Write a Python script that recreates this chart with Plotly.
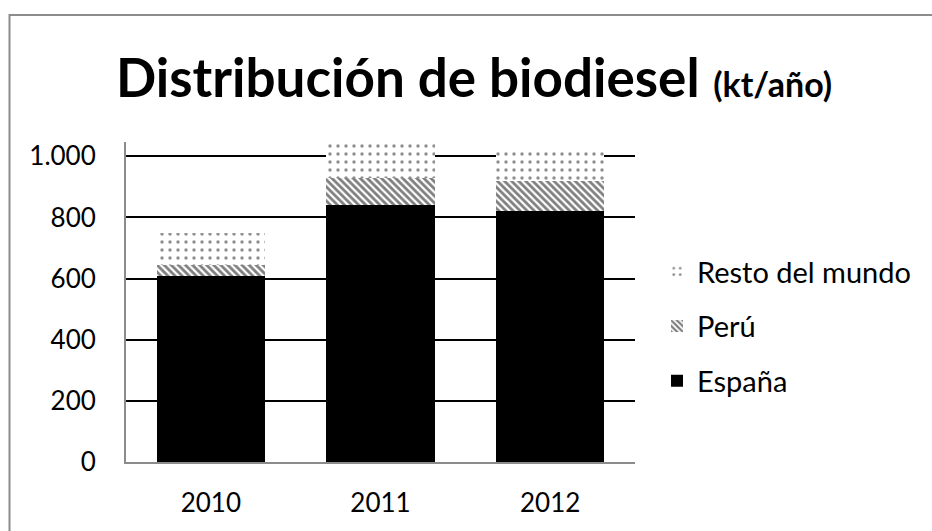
import plotly.graph_objects as go

years = ["2010", "2011", "2012"]
espana = [610, 840, 820]
peru = [35, 90, 100]
resto = [105, 110, 105]
y_ticks = [0, 200, 400, 600, 800, 1000]
y_tick_labels = ["0", "200", "400", "600", "800", "1.000"]

FONT = "Lato"
L, R, T, B = 126, 297, 142, 69
W, H = 932, 531
pw = W - L - R
ph = H - T - B

fig = go.Figure()
fig.add_trace(go.Bar(
    x=years, y=espana, name="España", legendgroup="a", legendrank=3,
    marker=dict(color="black", line=dict(width=0)),
))
fig.add_trace(go.Bar(
    x=years, y=peru, name="Perú", legendgroup="b", legendrank=2,
    marker=dict(color="white", line=dict(width=0),
                pattern=dict(shape="\\", fgcolor="black", bgcolor="white",
                             size=5, solidity=0.55, fillmode="overlay")),
))
fig.add_trace(go.Bar(
    x=years, y=resto, name="Resto del mundo", legendgroup="c", legendrank=1,
    marker=dict(color="white", line=dict(width=0),
                pattern=dict(shape=".", fgcolor="#222222", bgcolor="white",
                             size=8, solidity=0.15, fillmode="overlay")),
))

def px_x(p):
    return (p - L) / pw

def px_y(p):
    return (H - B - p) / ph

fig.add_shape(type="rect", xref="paper", yref="paper",
              x0=px_x(9.5), x1=px_x(960), y0=px_y(15), y1=px_y(560),
              line=dict(color="#8c8c8c", width=2), fillcolor="rgba(0,0,0,0)", layer="below")

fig.update_layout(
    width=W, height=H,
    margin=dict(l=L, r=R, t=T, b=B),
    paper_bgcolor="white", plot_bgcolor="white",
    barmode="stack", bargap=0.36,
    font=dict(family=FONT, color="black"),
    title=dict(
        text="<b>Distribución de biodiesel</b> <b><span style='font-size:34px'>(kt/año)</span></b>",
        x=0.5 + 8 / W, xref="container", xanchor="center",
        y=1 - 78 / H, yref="container", yanchor="middle",
        font=dict(family=FONT, size=53, color="black"),
    ),
    legend=dict(
        x=px_x(657), xanchor="left", y=px_y(246), yanchor="top",
        traceorder="grouped", tracegroupgap=14,
        font=dict(family=FONT, size=29, color="black"),
        bgcolor="rgba(0,0,0,0)",
    ),
    xaxis=dict(
        showgrid=False, showline=True, linecolor="#8c8c8c", linewidth=2,
        ticks="", ticklabelstandoff=17,
        tickfont=dict(family=FONT, size=26, color="black"),
    ),
    yaxis=dict(
        range=[0, 1047], tickvals=y_ticks, ticktext=y_tick_labels,
        showgrid=True, gridcolor="black", gridwidth=2,
        showline=True, linecolor="#8c8c8c", linewidth=2,
        zeroline=False, ticks="", ticklabelstandoff=23,
        tickfont=dict(family=FONT, size=26, color="black"),
    ),
)

fig.write_html("out.html", config={"displayModeBar": False},
               post_script="document.body.style.margin='0';")
